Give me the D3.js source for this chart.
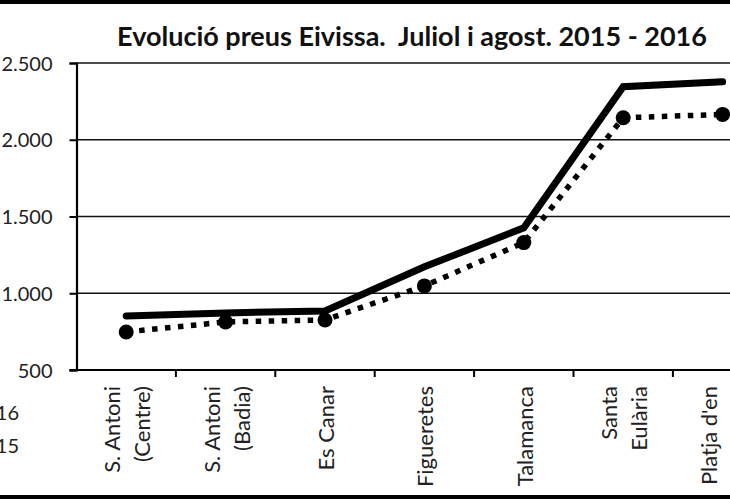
<!DOCTYPE html>
<html>
<head>
<meta charset="utf-8">
<script src="https://cdn.jsdelivr.net/npm/d3@7"></script>
<style>
  html, body { margin: 0; padding: 0; background: #fff; overflow: hidden; }
  svg { display: block; font-family: Lato, "Open Sans", sans-serif; }
</style>
</head>
<body>
<svg id="chart" width="730" height="500"></svg>
<script>
const categories = ["S. Antoni|(Centre)", "S. Antoni|(Badia)", "Es Canar", "Figueretes", "Talamanca", "Santa|Eulària", "Platja d'en|Bossa"];
const values2016 = [852, 872, 885, 1172, 1426, 2346, 2378];
const values2015 = [748, 813, 826, 1048, 1330, 2143, 2165];
const yTicks = [500, 1000, 1500, 2000, 2500];
const seriesNames = ["2016", "2015"];
const titleText = "Evolució preus Eivissa.  Juliol i agost. 2015 - 2016";

(function () {
const svg = d3.select("#chart");
const W = 730, H = 500;
const mLeft = 76.5, mTop = 63, mBottom = 370;
const bandW = 99.4;
const mRight = mLeft + bandW * categories.length;

const x = d3.scaleBand().domain(d3.range(categories.length)).range([mLeft, mRight]).paddingInner(0).paddingOuter(0);
const y = d3.scaleLinear().domain([500, 2500]).range([mBottom, mTop]);
const fmt = v => d3.format(",")(v).replace(/,/g, ".");

// frame
svg.append("rect").attr("x", -10).attr("y", 2).attr("width", W + 20).attr("height", 495)
  .attr("fill", "none").attr("stroke", "#000").attr("stroke-width", 4);

// title
svg.append("text").attr("x", 412).attr("y", 46).attr("text-anchor", "middle")
  .style("white-space", "pre")
  .attr("font-weight", "bold").attr("font-size", 27).attr("fill", "#111").text(titleText);

// gridlines
svg.append("g").selectAll("line").data(yTicks.filter(d => d > 500)).join("line")
  .attr("x1", mLeft).attr("x2", W + 5)
  .attr("y1", d => y(d)).attr("y2", d => y(d))
  .attr("stroke", "#111").attr("stroke-width", 1.6);

// y axis
const yAxis = d3.axisLeft(y).tickValues(yTicks).tickFormat(fmt).tickSize(7).tickPadding(17);
const gy = svg.append("g").attr("transform", `translate(${mLeft},0)`).call(yAxis);
gy.select(".domain").attr("stroke", "#000").attr("stroke-width", 2.2);
gy.selectAll(".tick line").attr("stroke", "#000").attr("stroke-width", 2);
gy.selectAll(".tick text").attr("font-size", 20).attr("fill", "#222").attr("font-family", "Lato, sans-serif").attr("dy", "0.35em");

// x axis
const xb = d3.scaleLinear().domain([0, categories.length]).range([mLeft, mRight]);
svg.append("line").attr("x1", mLeft - 7).attr("x2", W + 5).attr("y1", mBottom).attr("y2", mBottom)
  .attr("stroke", "#000").attr("stroke-width", 2.2);
svg.append("g").selectAll("line").data(d3.range(1, categories.length + 1)).join("line")
  .attr("x1", d => xb(d)).attr("x2", d => xb(d)).attr("y1", mBottom).attr("y2", mBottom + 7)
  .attr("stroke", "#000").attr("stroke-width", 2);

// category labels
const lg = svg.append("g");
categories.forEach((c, i) => {
  const lines = c.split("|");
  const cx = x(i) + x.bandwidth() / 2;
  const spacing = 30;
  lines.forEach((ln, j) => {
    const bx = cx + (j - (lines.length - 1) / 2) * spacing + 9;
    lg.append("text")
      .attr("transform", `translate(${bx},${mBottom + 16}) rotate(-90)`)
      .attr("text-anchor", "end")
      .attr("font-size", 22).attr("fill", "#222")
      .text(ln);
  });
});

// lines
const cxOf = i => x(i) + x.bandwidth() / 2;
const line = d3.line().x((d, i) => cxOf(i)).y(d => y(d));
svg.append("path").datum(values2016).attr("d", line)
  .attr("fill", "none").attr("stroke", "#000").attr("stroke-width", 7)
  .attr("stroke-linecap", "round").attr("stroke-linejoin", "miter");
svg.append("path").datum(values2015).attr("d", line)
  .attr("fill", "none").attr("stroke", "#000").attr("stroke-width", 5.5)
  .attr("stroke-dasharray", "5.5,7.5");
svg.append("g").selectAll("circle").data(values2015).join("circle")
  .attr("cx", (d, i) => cxOf(i)).attr("cy", d => y(d)).attr("r", 7.5).attr("fill", "#000");

// legend (cut off at left edge)
const lgd = svg.append("g");
seriesNames.forEach((s, i) => {
  lgd.append("text").attr("x", 19).attr("y", 420 + i * 33).attr("text-anchor", "end")
    .attr("font-size", 20).attr("fill", "#222").text(s);
});
})();
</script>
</body>
</html>
